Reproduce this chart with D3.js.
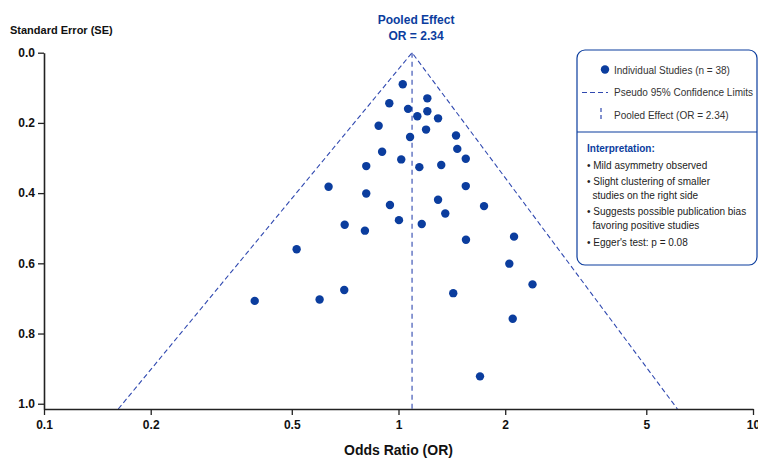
<!DOCTYPE html>
<html>
<head>
<meta charset="utf-8">
<script src="https://cdn.jsdelivr.net/npm/d3@7"></script>
<style>
    body { margin: 0; background: white; }
    text { font-family: "Liberation Sans", Arial, sans-serif; }
</style>
</head>
<body>
<script>
// study estimates
var oddsRatios = [1.028, 1.206, 0.942, 1.064, 1.206, 1.130, 1.293, 0.879, 1.196, 1.078,
    1.453, 1.465, 0.899, 1.018, 1.548, 0.811, 1.145, 1.320, 0.635, 0.811,
    1.548, 0.946, 1.293, 1.743, 1.355, 1.003, 0.705, 1.163, 0.804, 1.550,
    0.516, 2.118, 2.054, 2.388, 1.427, 2.100, 1.698, 0.393, 0.599, 0.703]
var standardErrors = [0.090, 0.130, 0.144, 0.160, 0.167, 0.181, 0.187, 0.208, 0.219, 0.240,
    0.236, 0.274, 0.282, 0.304, 0.302, 0.323, 0.326, 0.320, 0.382, 0.401,
    0.380, 0.434, 0.419, 0.437, 0.458, 0.477, 0.490, 0.488, 0.507, 0.533,
    0.560, 0.524, 0.601, 0.660, 0.685, 0.758, 0.922, 0.707, 0.703, 0.676]

// pooled line and funnel edges at the bottom of the plot
var pooledPosition = 1.092
var funnelLower = 0.162
var funnelUpper = 6.12
var seMax = 1.015

var xTicks = [0.1, 0.2, 0.5, 1, 2, 5, 10]
var xTickLabels = ["0.1", "0.2", "0.5", "1", "2", "5", "10"]
var yTicks = [0, 0.2, 0.4, 0.6, 0.8, 1.0]

var legendItems = ["Individual Studies (n = 38)", "Pseudo 95% Confidence Limits", "Pooled Effect (OR = 2.34)"]
var notes = [["Mild asymmetry observed"],
    ["Slight clustering of smaller", "studies on the right side"],
    ["Suggests possible publication bias", "favoring positive studies"],
    ["Egger's test: p = 0.08"]]

var width = 758
var height = 459
var blue = "#0b3d9e"
var lineBlue = "#3049b0"

var svg = d3.select("body")
    .append("svg")
    .attr("width", width)
    .attr("height", height)

var xScale = d3.scaleLog()
    .domain([0.1, 10])
    .range([44, 753])
var yScale = d3.scaleLinear()
    .domain([0, seMax])
    .range([52.7, 409])

// funnel
var apex = [xScale(pooledPosition), yScale(0)]
svg.append("path")
    .attr("d", d3.line()([[xScale(funnelLower), yScale(seMax)], apex, [xScale(funnelUpper), yScale(seMax)]]))
    .attr("fill", "none")
    .attr("stroke", lineBlue)
    .attr("stroke-width", 1.1)
    .attr("stroke-dasharray", "5,3")

// pooled effect line
svg.append("line")
    .attr("x1", xScale(pooledPosition))
    .attr("x2", xScale(pooledPosition))
    .attr("y1", yScale(0))
    .attr("y2", yScale(seMax))
    .attr("stroke", lineBlue)
    .attr("stroke-width", 1.1)
    .attr("stroke-dasharray", "5,4")

// points
svg.selectAll("circle.study")
    .data(oddsRatios)
    .enter()
    .append("circle")
    .attr("class", "study")
    .attr("cx", function(d) { return xScale(d) })
    .attr("cy", function(d, i) { return yScale(standardErrors[i]) })
    .attr("r", 4.2)
    .style("fill", blue)

// axes
var xAxis = d3.axisBottom(xScale)
    .tickValues(xTicks)
    .tickFormat(function(d, i) { return xTickLabels[i] })
    .tickSize(6)
    .tickSizeOuter(0)
var yAxis = d3.axisLeft(yScale)
    .tickValues(yTicks)
    .tickFormat(d3.format(".1f"))
    .tickSize(6)
    .tickSizeOuter(0)

var gx = svg.append("g")
    .attr("transform", "translate(0," + yScale(seMax) + ")")
    .call(xAxis)
var gy = svg.append("g")
    .attr("transform", "translate(" + xScale(0.1) + ",0)")
    .call(yAxis)

;[gx, gy].forEach(function(g) {
    g.select(".domain").attr("stroke", "#222").attr("stroke-width", 1.6)
    g.selectAll(".tick line").attr("stroke", "#222").attr("stroke-width", 1.3)
    g.selectAll(".tick text")
        .style("font-family", "'Liberation Sans', Arial, sans-serif")
        .style("font-size", "12px")
        .style("font-weight", "bold")
        .attr("fill", "#111")
})
gx.selectAll(".tick text").attr("dy", "0.95em")

svg.append("text")
    .attr("x", xScale(1))
    .attr("y", 455)
    .attr("text-anchor", "middle")
    .style("font-size", "14px")
    .style("font-weight", "bold")
    .attr("fill", "#111")
    .text("Odds Ratio (OR)")

svg.append("text")
    .attr("x", 10)
    .attr("y", 34)
    .style("font-size", "11px")
    .style("font-weight", "bold")
    .attr("fill", "#111")
    .text("Standard Error (SE)")

// annotation above apex
svg.append("text")
    .attr("x", apex[0] + 4)
    .attr("y", 24)
    .attr("text-anchor", "middle")
    .style("font-size", "12px")
    .style("font-weight", "bold")
    .attr("fill", blue)
    .text("Pooled Effect")
svg.append("text")
    .attr("x", apex[0] + 4)
    .attr("y", 39.5)
    .attr("text-anchor", "middle")
    .style("font-size", "12px")
    .style("font-weight", "bold")
    .attr("fill", blue)
    .text("OR = 2.34")

// legend box
var legend = svg.append("g").attr("transform", "translate(577,50)")
legend.append("rect")
    .attr("width", 180)
    .attr("height", 215)
    .attr("rx", 8)
    .attr("fill", "white")
    .attr("stroke", blue)
    .attr("stroke-width", 1.2)
legend.append("line")
    .attr("x1", 0).attr("x2", 180)
    .attr("y1", 82).attr("y2", 82)
    .attr("stroke", blue)
    .attr("stroke-width", 1.2)

legend.append("circle")
    .attr("cx", 28).attr("cy", 19.5).attr("r", 4.2)
    .style("fill", blue)
legend.append("line")
    .attr("x1", 5).attr("x2", 31)
    .attr("y1", 42.5).attr("y2", 42.5)
    .attr("stroke", lineBlue)
    .attr("stroke-width", 1.2)
    .attr("stroke-dasharray", "5,3")
legend.append("line")
    .attr("x1", 24).attr("x2", 24)
    .attr("y1", 58).attr("y2", 72)
    .attr("stroke", lineBlue)
    .attr("stroke-width", 1.2)
    .attr("stroke-dasharray", "4,3")

legend.selectAll("text.item")
    .data(legendItems)
    .enter()
    .append("text")
    .attr("class", "item")
    .attr("x", 37)
    .attr("y", function(d, i) { return 23.5 + i * 22.5 })
    .style("font-size", "10px")
    .attr("fill", "#333")
    .text(function(d) { return d })

legend.append("text")
    .attr("x", 10)
    .attr("y", 102)
    .style("font-size", "10px")
    .style("font-weight", "bold")
    .attr("fill", blue)
    .text("Interpretation:")

var y = 118.5
notes.forEach(function(note) {
    note.forEach(function(line, j) {
        legend.append("text")
            .attr("x", j == 0 ? 10 : 15.5)
            .attr("y", y)
            .style("font-size", "10px")
            .attr("fill", "#222")
            .text(j == 0 ? "\u2022 " + line : line)
        y += 13.3
    })
    y += 3.5
})
</script>
</body>
</html>
